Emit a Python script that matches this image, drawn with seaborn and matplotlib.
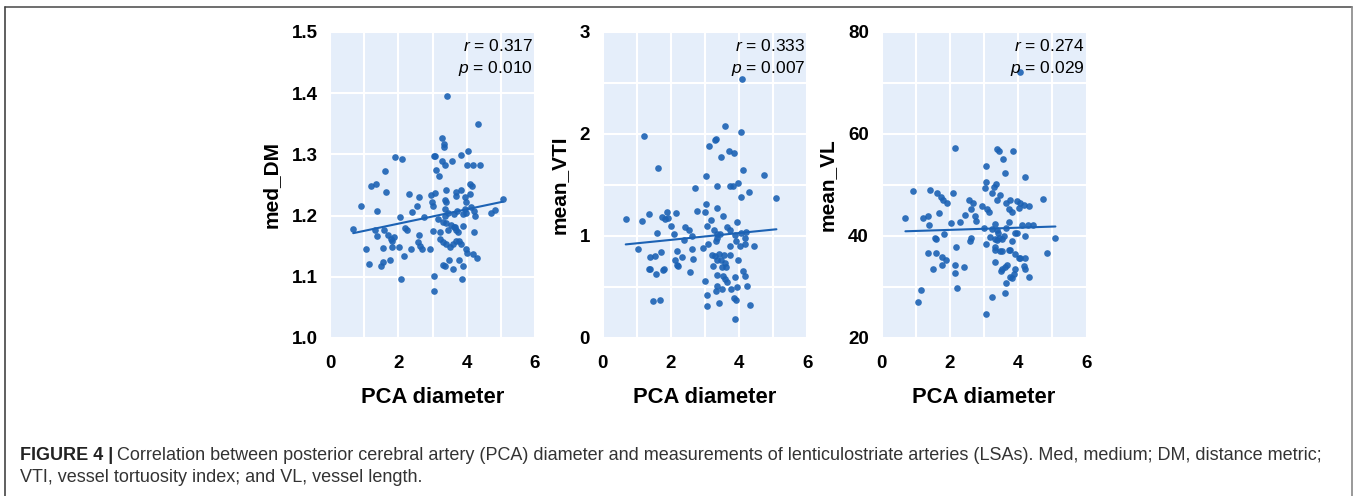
import matplotlib
matplotlib.use('Agg')
import matplotlib.pyplot as plt
from matplotlib.ticker import MultipleLocator
from matplotlib.lines import Line2D
import seaborn as sns

# values
dm_x = [3.43, 4.33, 3.29, 3.33, 3.33, 1.90, 2.12, 3.04, 3.06, 3.27, 3.58, 3.82, 4.04, 3.37,
        4.01, 4.18, 4.40, 1.61, 3.11, 3.19, 1.20, 1.34, 1.65, 2.31, 2.61, 2.97, 3.06, 3.39,
        3.70, 3.84, 4.09, 4.11, 4.16, 0.92, 1.38, 2.55, 2.40, 2.06, 2.75, 2.98, 3.00, 3.36,
        3.40, 3.36, 3.45, 3.36, 3.70, 3.94, 3.99, 3.94, 3.89, 3.99, 3.73, 3.62, 4.13, 4.20,
        4.23, 4.72, 4.84, 5.06, 0.68, 1.32, 1.58, 1.38, 1.70, 1.78, 1.88, 1.80, 2.19, 2.24,
        2.61, 3.00, 3.16, 3.31, 3.39, 3.21, 3.45, 3.53, 3.62, 3.70, 3.75, 3.65, 3.89, 4.20,
        1.04, 1.56, 1.82, 2.01, 2.38, 2.58, 2.63, 2.70, 2.92, 3.21, 3.31, 3.39, 3.50, 3.60,
        3.70, 3.79, 3.84, 3.99, 4.02, 4.18, 4.30, 1.15, 1.48, 1.54, 1.75, 2.16, 3.48, 3.31,
        3.36, 3.60, 3.79, 3.89, 2.09, 3.04, 3.86, 3.04]
dm_y = [1.395, 1.350, 1.327, 1.317, 1.312, 1.296, 1.293, 1.298, 1.297, 1.290, 1.290, 1.299,
        1.305, 1.282, 1.282, 1.282, 1.282, 1.273, 1.275, 1.265, 1.248, 1.251, 1.239, 1.235,
        1.230, 1.234, 1.237, 1.242, 1.239, 1.242, 1.236, 1.252, 1.248, 1.216, 1.208, 1.215,
        1.206, 1.197, 1.197, 1.222, 1.216, 1.226, 1.222, 1.211, 1.205, 1.200, 1.232, 1.230,
        1.222, 1.211, 1.203, 1.204, 1.208, 1.203, 1.214, 1.208, 1.200, 1.205, 1.209, 1.227,
        1.178, 1.176, 1.176, 1.166, 1.168, 1.161, 1.165, 1.159, 1.179, 1.176, 1.169, 1.175,
        1.195, 1.189, 1.188, 1.173, 1.176, 1.184, 1.181, 1.176, 1.173, 1.181, 1.183, 1.173,
        1.145, 1.147, 1.148, 1.148, 1.145, 1.157, 1.151, 1.146, 1.146, 1.161, 1.157, 1.154,
        1.149, 1.154, 1.158, 1.158, 1.154, 1.146, 1.139, 1.137, 1.130, 1.121, 1.117, 1.124,
        1.128, 1.134, 1.128, 1.119, 1.118, 1.112, 1.128, 1.118, 1.097, 1.102, 1.097, 1.076]

vti_x = [4.09, 3.60, 4.04, 1.20, 3.29, 3.32, 3.13, 3.70, 3.85, 3.46, 1.61, 4.12, 4.73, 3.03,
         3.36, 3.73, 3.81, 3.98, 2.72, 4.28, 4.04, 5.09, 3.02, 3.36, 1.88, 2.14, 2.78, 3.00,
         1.35, 1.16, 0.68, 1.74, 1.83, 1.91, 3.54, 3.17, 3.93, 2.01, 2.42, 2.53, 3.05, 3.25,
         3.64, 3.73, 1.59, 2.08, 2.61, 2.39, 3.34, 3.36, 3.44, 3.32, 3.88, 3.91, 4.04, 4.20,
         4.18, 3.08, 2.93, 3.73, 4.01, 4.17, 4.42, 1.05, 1.39, 1.55, 1.72, 2.17, 2.63, 2.32,
         2.11, 2.17, 2.22, 2.66, 3.20, 3.29, 3.42, 3.56, 3.73, 3.34, 3.46, 3.59, 3.49, 3.62,
         3.98, 3.22, 1.35, 1.39, 1.56, 1.76, 1.80, 2.56, 4.12, 4.18, 3.34, 3.52, 3.59, 3.64,
         3.89, 3.00, 3.34, 3.32, 3.49, 3.75, 3.95, 4.22, 3.05, 3.85, 3.90, 1.49, 1.69, 3.41,
         3.05, 4.32, 3.88]
vti_y = [2.54, 2.08, 2.02, 1.98, 1.94, 1.95, 1.88, 1.83, 1.81, 1.77, 1.67, 1.65, 1.60, 1.59,
         1.49, 1.49, 1.49, 1.52, 1.47, 1.43, 1.38, 1.37, 1.31, 1.27, 1.24, 1.23, 1.25, 1.24,
         1.22, 1.15, 1.17, 1.19, 1.17, 1.18, 1.20, 1.16, 1.14, 1.10, 1.09, 1.06, 1.10, 1.06,
         1.09, 1.06, 1.03, 1.02, 1.00, 0.96, 1.02, 0.98, 1.02, 0.95, 1.01, 0.95, 1.03, 1.04,
         0.98, 0.92, 0.88, 0.90, 0.90, 0.92, 0.90, 0.87, 0.79, 0.80, 0.84, 0.85, 0.87, 0.79,
         0.76, 0.72, 0.71, 0.77, 0.81, 0.80, 0.82, 0.81, 0.81, 0.76, 0.76, 0.74, 0.70, 0.70,
         0.76, 0.71, 0.68, 0.68, 0.63, 0.67, 0.68, 0.65, 0.66, 0.61, 0.62, 0.61, 0.58, 0.55,
         0.60, 0.56, 0.51, 0.46, 0.48, 0.48, 0.50, 0.51, 0.42, 0.39, 0.37, 0.36, 0.37, 0.34,
         0.31, 0.32, 0.19]

vl_x = [4.06, 2.15, 3.38, 3.43, 3.84, 3.55, 3.05, 3.60, 4.20, 3.07, 3.35, 3.28, 3.04, 0.93,
        1.41, 1.61, 1.73, 1.81, 1.92, 2.09, 3.23, 3.46, 2.55, 2.67, 2.62, 3.38, 3.64, 3.77,
        3.96, 4.04, 4.16, 4.01, 4.32, 4.72, 2.94, 3.09, 3.14, 3.72, 3.83, 1.68, 2.43, 2.73,
        0.70, 1.21, 1.36, 1.40, 2.02, 2.31, 2.78, 3.31, 3.72, 3.00, 3.23, 3.38, 3.40, 3.65,
        3.91, 3.96, 4.11, 4.28, 4.42, 1.84, 1.58, 1.60, 2.62, 2.58, 3.17, 3.33, 3.43, 3.38,
        3.53, 3.59, 3.83, 4.21, 5.09, 2.18, 3.06, 3.31, 3.33, 3.46, 3.54, 3.72, 3.77, 3.91,
        4.01, 4.06, 4.20, 4.85, 1.37, 1.60, 1.78, 1.89, 1.78, 1.50, 2.16, 2.41, 2.14, 3.31,
        3.51, 3.62, 3.67, 3.54, 3.91, 4.17, 4.20, 4.32, 3.77, 3.83, 3.88, 3.65, 2.21, 1.17,
        1.07, 3.23, 3.60, 3.05]
vl_y = [72.1, 57.3, 57.1, 56.6, 56.6, 55.1, 53.8, 52.3, 51.6, 50.5, 50.1, 49.7, 49.4, 48.8,
        49.0, 48.4, 47.6, 47.1, 46.4, 48.4, 48.4, 48.1, 47.1, 46.4, 45.3, 47.1, 46.4, 47.0,
        46.8, 46.5, 46.0, 45.5, 45.8, 47.3, 45.8, 45.3, 44.7, 45.3, 44.8, 44.5, 44.2, 43.9,
        43.6, 43.6, 43.9, 42.2, 42.6, 42.7, 42.9, 42.4, 42.7, 41.6, 41.4, 41.1, 40.6, 41.6,
        40.5, 40.6, 42.2, 42.2, 42.2, 40.3, 39.6, 39.5, 39.6, 39.0, 39.8, 39.5, 39.6, 39.2,
        39.4, 40.0, 39.0, 40.0, 39.6, 37.9, 38.4, 37.9, 37.2, 37.0, 37.0, 37.2, 37.2, 36.4,
        35.6, 35.6, 35.7, 36.7, 36.7, 36.7, 35.9, 35.3, 34.3, 33.5, 34.3, 34.0, 32.8, 34.9,
        33.1, 34.0, 34.4, 33.5, 33.5, 34.2, 33.6, 32.0, 32.0, 31.7, 32.5, 30.7, 29.9, 29.4,
        27.1, 28.0, 28.8, 24.8]

y_names = ['med_DM', 'mean_VTI', 'mean_VL']
r_vals = ['0.317', '0.333', '0.274']
p_vals = ['0.010', '0.007', '0.029']

sns.set_style('whitegrid', {'axes.facecolor': '#e5eefa', 'grid.color': 'white'})
plt.rcParams['font.family'] = ['Liberation Sans', 'DejaVu Sans']
plt.rcParams['mathtext.fontset'] = 'custom'
plt.rcParams['mathtext.rm'] = 'Liberation Sans'
plt.rcParams['mathtext.it'] = 'Liberation Sans:italic'
for k in ['text.color', 'axes.labelcolor', 'xtick.color', 'ytick.color']:
    plt.rcParams[k] = 'black'

blue = '#1c62b4'
fig = plt.figure(figsize=(13.54, 4.96), dpi=100)

# axes limits, major and minor steps for each panel
panels = [
    (dm_x, dm_y, (1.0, 1.5), 0.1, 0.1, '{:.1f}'),
    (vti_x, vti_y, (0, 3), 1, 0.5, '{:.0f}'),
    (vl_x, vl_y, (20, 80), 20, 10, '{:.0f}'),
]
lefts = [330, 602.5, 881.5]

for i, (xs, ys, ylim, major, minor, fmt) in enumerate(panels):
    ax = fig.add_axes([lefts[i] / 1354, 1 - 338 / 496, 205 / 1354, 306 / 496])
    sns.regplot(x=xs, y=ys, ax=ax, ci=None, color=blue,
                scatter_kws={'s': 23, 'alpha': 0.9, 'linewidths': 0},
                line_kws={'lw': 1.5})
    ax.set_xlim(0, 6)
    ax.set_ylim(*ylim)
    ax.xaxis.set_major_locator(MultipleLocator(2))
    ax.xaxis.set_minor_locator(MultipleLocator(1))
    ax.yaxis.set_major_locator(MultipleLocator(major))
    ax.yaxis.set_minor_locator(MultipleLocator(minor))
    ax.set_yticks(ax.get_yticks())
    ax.set_yticklabels([fmt.format(v) for v in ax.get_yticks()])
    ax.set_ylim(*ylim)
    ax.grid(which='both', color='white', lw=1.5)
    ax.tick_params(which='both', length=0)
    ax.tick_params(axis='x', pad=12)
    ax.tick_params(axis='y', pad=9)
    for lab in ax.get_xticklabels() + ax.get_yticklabels():
        lab.set_fontsize(13.5)
        lab.set_fontweight('bold')
    for s in ax.spines.values():
        s.set_visible(False)
    ax.set_xlabel('PCA diameter', fontsize=15.8, fontweight='bold', labelpad=11)
    ax.set_ylabel(y_names[i], fontsize=15, fontweight='bold', labelpad=8)
    ax.text(0.99, 0.955, r'$\mathit{r}$ = ' + r_vals[i], transform=ax.transAxes,
            ha='right', va='center', fontsize=12.5)
    ax.text(0.99, 0.882, r'$\mathit{p}$ = ' + p_vals[i], transform=ax.transAxes,
            ha='right', va='center', fontsize=12.5)

# frame around the figure
frame = dict(transform=fig.transFigure, lw=1.2)
fig.add_artist(Line2D([5 / 1354, 1352 / 1354], [1 - 7 / 496] * 2, color='#555555', **frame))
fig.add_artist(Line2D([5 / 1354] * 2, [0, 1 - 7 / 496], color='#444444', **frame))
fig.add_artist(Line2D([1352 / 1354] * 2, [0, 1 - 7 / 496], color='#888888', **frame))

# caption
head = fig.text(20 / 1354, 1 - 455 / 496, 'FIGURE 4 |', fontsize=13, fontweight='bold',
                color='#222222', va='center')
fig.canvas.draw()
bb = head.get_window_extent()
fig.text(bb.x1 / fig.bbox.width + 4 / 1354, 1 - 455 / 496,
         'Correlation between posterior cerebral artery (PCA) diameter and measurements of '
         'lenticulostriate arteries (LSAs). Med, medium; DM, distance metric;',
         fontsize=13, color='#333333', va='center')
fig.text(20 / 1354, 1 - 478 / 496, 'VTI, vessel tortuosity index; and VL, vessel length.',
         fontsize=13, color='#333333', va='center')

fig.savefig('out.png', dpi=100)
